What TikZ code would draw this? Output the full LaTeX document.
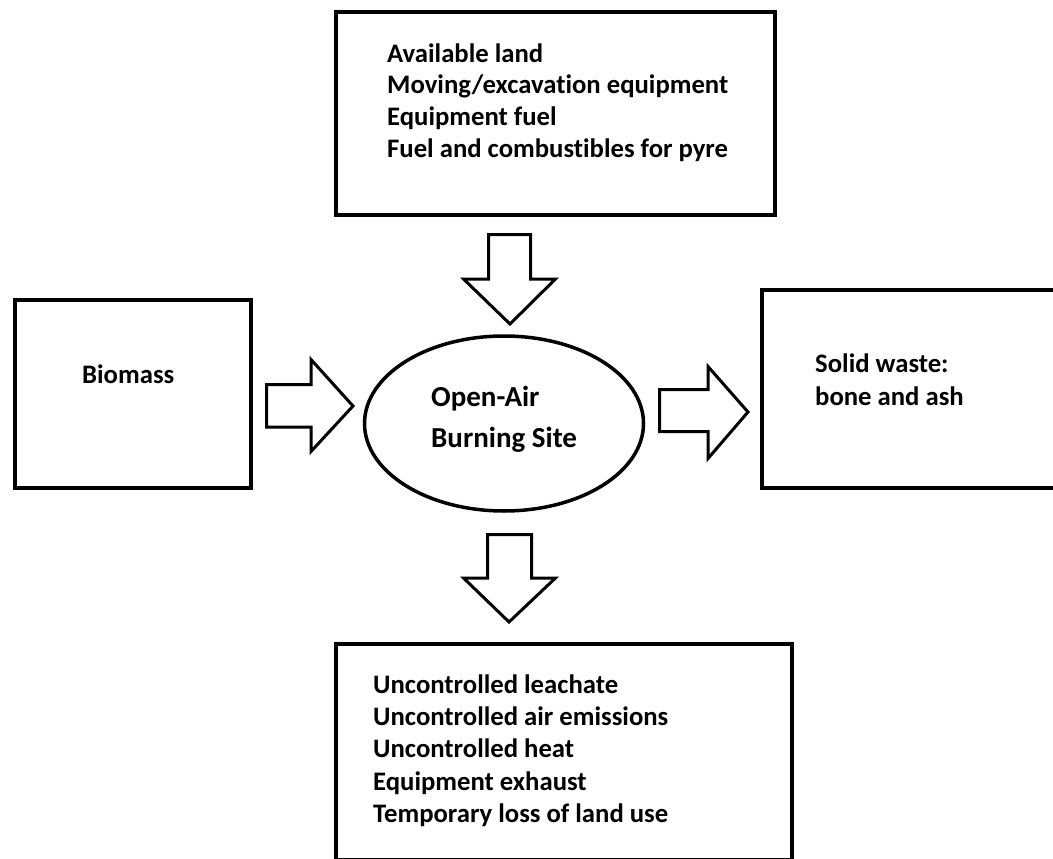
\documentclass[tikz,border=0pt]{standalone}
\usepackage{fontspec}
\setmainfont{Carlito}[Ligatures=NoCommon]
\usetikzlibrary{shapes.geometric}
\newcommand\lstrut{\rule{0pt}{24pt}}
\begin{document}
\begin{tikzpicture}[x=1pt,y=-1pt,
  box/.style={draw=black,line width=4pt,rectangle,inner sep=0pt},
  blockarrow/.style={draw=black,line width=3pt,fill=white,line join=miter},
  txt/.style={anchor=north west,inner sep=0pt,align=left,font=\bfseries\fontsize{26.7}{31.7}\selectfont}]
\useasboundingbox (0,0) rectangle (1053,859);
\clip (0,0) rectangle (1053,859);
\fill[white] (0,0) rectangle (1053,859);

% boxes
\node[box,minimum width=439pt,minimum height=203pt] (top) at (555.5,113.5) {};
\node[box,minimum width=236pt,minimum height=188pt] (bio) at (133,394) {};
\node[box,minimum width=308pt,minimum height=198pt] (solid) at (916,389) {};
\node[box,minimum width=456pt,minimum height=216pt] (bot) at (564,752) {};
\node[draw=black,line width=3.5pt,ellipse,minimum width=279pt,minimum height=175pt,inner sep=0pt] (site) at (504,423.5) {};

% texts
\node[txt] (toptext) at (387,38) {\lstrut Available land\\Moving/excavation equipment\\Equipment fuel\\Fuel and combustibles for pyre};
\node[txt] (biotext) at (82,359) {\lstrut Biomass};
\node[txt,font=\bfseries\fontsize{26.7}{33}\selectfont] (solidtext) at (815,348) {\lstrut Solid waste:\\bone and ash};
\node[txt,font=\bfseries\fontsize{29}{41}\selectfont] (sitetext) at (431,382) {\lstrut Open-Air\\Burning Site};
\node[txt,font=\bfseries\fontsize{26.7}{32.3}\selectfont] (bottext) at (373,669) {\lstrut Uncontrolled leachate\\Uncontrolled air emissions\\Uncontrolled heat\\Equipment exhaust\\Temporary loss of land use};

% block arrows
\draw[blockarrow] (488.5,234.5) -- (530.5,234.5) -- (530.5,279) -- (555.5,279) -- (510,324) -- (463.5,279) -- (488.5,279) -- cycle;
\draw[blockarrow] (266.5,384.5) -- (311,384.5) -- (311,359.5) -- (353,406) -- (311,451.5) -- (311,427) -- (266.5,427) -- cycle;
\draw[blockarrow] (659.5,389.5) -- (708,389.5) -- (708,366.5) -- (748,412) -- (708,458.5) -- (708,431.5) -- (659.5,431.5) -- cycle;
\draw[blockarrow] (487.5,534.5) -- (531.5,534.5) -- (531.5,578) -- (555.5,578) -- (509,622) -- (463.5,578) -- (487.5,578) -- cycle;
\end{tikzpicture}
\end{document}
